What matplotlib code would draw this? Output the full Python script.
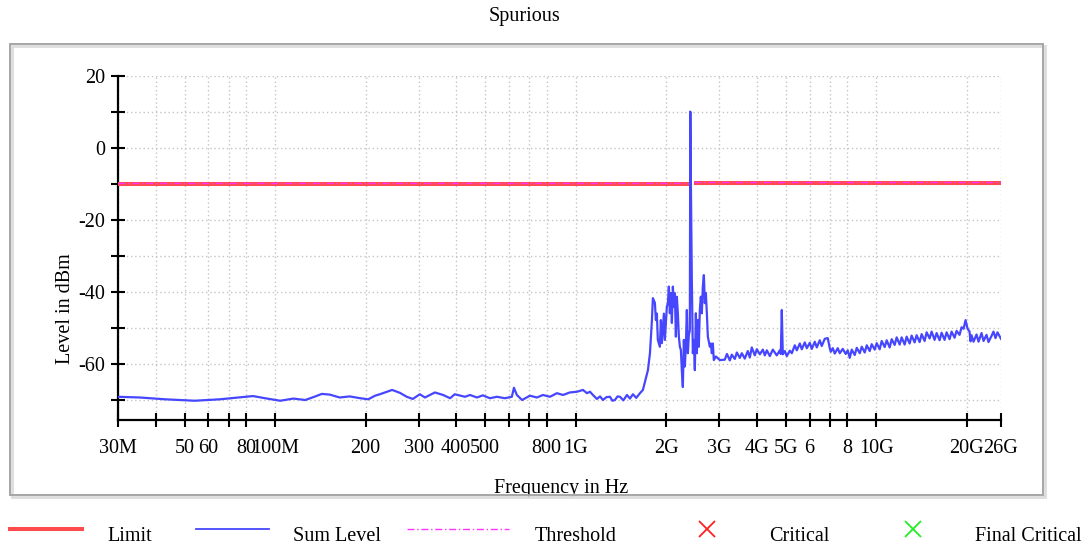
import numpy as np
import matplotlib
matplotlib.use("Agg")
from matplotlib import pyplot as plt
from matplotlib.lines import Line2D
from matplotlib.patches import Rectangle

plt.rcParams['font.family'] = ['Liberation Serif', 'DejaVu Serif']
plt.rcParams['axes.unicode_minus'] = False

# sum level trace, frequency in MHz, level in dBm
sum_freq = [
    30, 35.5, 43, 54, 65.5, 80, 84.4, 92.5, 104, 115, 126, 136, 143, 152, 164,
    177, 192, 204, 215, 223, 245, 260, 274, 287, 303, 315, 340, 362, 382, 396,
    428, 445, 469, 491, 518, 547, 581, 613, 623, 637, 663, 704, 743, 778, 821,
    866, 907, 956, 1010, 1057, 1090, 1116, 1141, 1176, 1205, 1232, 1265, 1300,
    1325, 1350, 1378, 1404, 1440, 1481, 1515, 1550, 1590, 1636, 1673, 1700,
    1739, 1766, 1793, 1806,
    1834, 1848, 1862, 1876, 1905, 1920, 1935, 1965, 1980, 2010, 2026, 2041,
    2057, 2073, 2089, 2105, 2121, 2137, 2154, 2170, 2187, 2204, 2221, 2238,
    2255, 2272, 2290, 2307, 2325, 2343, 2361, 2379, 2397, 2406, 2416, 2434,
    2453, 2472, 2491, 2510, 2529, 2549, 2568, 2588, 2608, 2628, 2648, 2669,
    2689, 2710, 2731, 2752, 2794, 2816, 2837, 2859, 2881, 2926, 3016,
    3133, 3185, 3256, 3306, 3383, 3436, 3515, 3570, 3652, 3737, 3795, 3853,
    3943, 4004, 4098, 4193, 4258, 4324, 4424, 4527, 4666, 4775, 4812, 4849,
    4886, 4961, 5038, 5156, 5236, 5357, 5440, 5566, 5652, 5783, 5873, 6009,
    6102, 6243, 6340, 6486, 6586, 6739, 6896, 7002, 7056, 7165, 7276, 7444,
    7560, 7735, 7912, 8036, 8161, 8287, 8479, 8611, 8810, 8947, 9153, 9296,
    9510, 9657, 9880, 10033, 10265, 10424, 10665, 10830, 11081, 11253, 11513,
    11691, 11962, 12148, 12428, 12621, 12912, 13112, 13416, 13624, 13939,
    14155, 14482, 14707, 15047, 15280, 15633, 15876, 16243, 16495, 16876,
    17138, 17534, 17806, 18217, 18500, 18928, 19221, 19518, 19817, 20124,
    20432, 20589, 20747, 21068, 21557, 21890, 22397, 22743, 23270, 23628,
    24178, 24550, 24927, 25310, 26000,
]
sum_level = [
    -69.1, -69.3, -69.8, -70.2, -69.8, -69.1, -68.9, -69.5, -70.2, -69.6,
    -70.0, -69.0, -68.3, -68.5, -69.3, -69.0, -69.5, -69.8, -68.8, -68.4,
    -67.2, -68.0, -69.1, -69.7, -68.4, -69.3, -67.9, -68.6, -69.5, -68.4,
    -69.1, -68.6, -69.3, -68.7, -69.5, -69.1, -69.5, -69.1, -66.6, -68.6,
    -70.0, -68.8, -69.3, -68.6, -69.1, -68.1, -68.6, -67.9, -67.7, -67.2,
    -68.1, -67.7, -68.6, -69.7, -69.0, -70.0, -69.2, -69.1, -70.2, -70.0,
    -69.0, -69.1, -70.1, -68.6, -69.6, -68.4, -69.4, -68.1, -67.2, -64.9,
    -61.7, -57.0, -47.8, -41.7,
    -43.0, -47.8, -46.0, -53.3, -55.2, -47.8, -54.2, -46.0, -53.3, -44.1,
    -43.1, -38.5, -45.9, -40.3, -48.6, -38.5, -44.1, -40.3, -52.4, -41.3,
    -45.9, -52.4, -55.2, -56.1, -62.0, -66.4, -53.3, -60.7, -55.2, -45.0,
    -57.0, -52.0, -50.6, 10.1, -8.9, -36.7, -57.0, -53.3, -61.7, -45.9,
    -57.0, -47.8, -55.2, -45.0, -41.3, -45.9, -38.5, -35.3, -43.1, -40.3,
    -45.9, -52.4, -55.2, -54.3, -57.0, -54.3, -58.9, -57.9, -58.9,
    -58.8, -57.2, -59.0, -57.4, -58.6, -56.8, -58.3, -57.0, -58.5, -56.4,
    -58.2, -55.4, -57.6, -55.9, -57.3, -56.0, -57.6, -56.2, -57.8, -56.0,
    -57.6, -56.2, -57.2, -45.0, -57.3, -56.4, -57.8, -56.3, -57.0, -54.8,
    -56.2, -54.3, -55.9, -54.0, -55.6, -54.1, -55.8, -53.8, -55.4, -53.4,
    -55.0, -53.0, -52.8, -55.6, -56.6, -55.6, -57.1, -55.6, -57.0, -55.8,
    -57.2, -56.2, -58.3, -56.0, -57.5, -55.5, -57.0, -55.2, -56.8, -54.8,
    -56.4, -54.5, -56.0, -54.2, -55.9, -53.6, -55.3, -53.4, -55.4, -53.1,
    -54.7, -52.6, -54.6, -52.6, -54.6, -52.4, -54.3, -52.1, -54.0, -52.0,
    -53.9, -51.7, -53.6, -51.2, -52.9, -51.0, -53.3, -51.4, -53.4, -51.3,
    -53.3, -51.2, -53.1, -51.0, -52.7, -50.8, -51.9, -49.8, -50.2, -47.8,
    -50.2, -51.0, -53.7, -52.0, -53.8, -51.8, -53.8, -51.4, -53.6, -51.9,
    -53.9, -52.2, -51.0, -52.8, -51.2, -53.0,
]

# limit / threshold lines (two segments, NaN breaks them)
limit_freq = [30, 2400, 2430, 2470, 26000]
limit_level = [-10, -10, np.nan, -9.7, -9.7]
threshold_level = [-9.8, -9.8, np.nan, -9.5, -9.5]

xtick_mhz = [30, 40, 50, 60, 70, 80, 100, 200, 300, 400, 500, 600, 700, 800,
             1000, 2000, 3000, 4000, 5000, 6000, 7000, 8000, 10000, 20000, 26000]
xtick_labels = ['30M', '', '50', '60', '', '80', '100M', '200', '300', '400',
                '500', '', '', '800', '1G', '2G', '3G', '4G', '5G', '6', '',
                '8', '10G', '20G', '26G']
ytick_vals = [-70, -60, -50, -40, -30, -20, -10, 0, 10, 20]
ytick_labels = ['', '-60', '', '-40', '', '-20', '', '0', '', '20']

legend_names = ['Limit', 'Sum Level', 'Threshold', 'Critical', 'Final Critical']

RED = '#ff4b4b'
BLUE = '#4646ff'
MAG = '#ff33ff'
FS = 14.5

fig = plt.figure(figsize=(10.91, 5.46), dpi=100)
W, H = 1091.0, 546.0

ax = fig.add_axes([118 / W, 126 / H, 883 / W, 344 / H])
ax.set_xscale('log')

f = np.array(sum_freq) * 1e6
lf = np.array(limit_freq) * 1e6
ax.plot(lf, limit_level, color=RED, linewidth=2.9, solid_capstyle='butt', zorder=3)
ax.plot(lf, threshold_level, color=MAG, linewidth=1.0, linestyle=(0, (5, 2, 1, 2)), zorder=4)
ax.plot(f, sum_level, color=BLUE, linewidth=1.6, zorder=5)

ax.set_xlim(30e6, 26e9)
ax.set_ylim(-75.55, 20)
ax.set_xticks(np.array(xtick_mhz) * 1e6)
ax.set_xticklabels(xtick_labels)
ax.xaxis.set_minor_locator(matplotlib.ticker.NullLocator())
ax.set_yticks(ytick_vals)
ax.set_yticklabels(ytick_labels)

for s in ['top', 'right']:
    ax.spines[s].set_visible(False)
for s in ['left', 'bottom']:
    ax.spines[s].set_linewidth(1.6)
    ax.spines[s].set_color('black')

ax.tick_params(axis='both', direction='inout', length=10, width=1.5, labelsize=FS)
ax.tick_params(axis='x', pad=9)
ax.tick_params(axis='y', pad=4)
ax.grid(True, color='#c4c4c4', linestyle=(0, (1, 2)), linewidth=1.0)
ax.set_axisbelow(True)

ax.set_ylabel('Level in dBm', fontsize=FS)
ax.yaxis.set_label_coords(-0.06, 0.323)
ax.yaxis.label.set_va('center')
ax.set_xlabel('Frequency in Hz', fontsize=FS)
ax.xaxis.set_label_coords(0.502, -0.212)
ax.xaxis.label.set_va('baseline')

# hide descenders of the x label below the frame line, like the original
fig.add_artist(Rectangle((100 / W, 34 / H), 900 / W, 15.5 / H, transform=fig.transFigure,
                         facecolor='white', edgecolor='none', zorder=2))

# outer frame
fig.add_artist(Rectangle((12 / W, 49 / H), 1033 / W, 451 / H, transform=fig.transFigure,
                         fill=False, edgecolor='#dddddd', linewidth=2.0, zorder=8))
fig.add_artist(Rectangle((10 / W, 51 / H), 1033 / W, 451 / H, transform=fig.transFigure,
                         fill=False, edgecolor='#a6a6a6', linewidth=1.4, zorder=9))

fig.text(524 / W, 1 - 16 / H, 'Spurious', ha='center', va='center', fontsize=FS)

# legend row
ly = 1 - 529 / H
ty = 1 - 541 / H
fig.add_artist(Line2D([10 / W, 82 / W], [ly, ly], color=RED, linewidth=2.9))
fig.add_artist(Line2D([196 / W, 269 / W], [ly, ly], color=BLUE, linewidth=1.3))
fig.add_artist(Line2D([407 / W, 509 / W], [ly, ly], color=MAG, linewidth=1.0,
                      linestyle=(0, (5, 2, 1, 2))))
fig.add_artist(Line2D([707 / W], [ly], color='#ff2020', marker='x', markersize=11,
                      markeredgewidth=1.3, linestyle='none'))
fig.add_artist(Line2D([913 / W], [ly], color='#22ee22', marker='x', markersize=11,
                      markeredgewidth=1.3, linestyle='none'))
for x, name in zip([107, 293, 535, 769, 975], legend_names):
    fig.text(x / W, ty, name, ha='left', va='baseline', fontsize=FS)

plt.savefig('out.png', dpi=100)
